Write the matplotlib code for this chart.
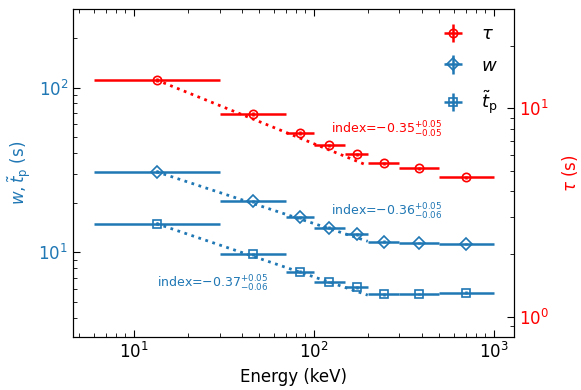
import numpy as np
import matplotlib.pyplot as plt

# bordes de los bines de energia [keV]
e_lo = np.array([6, 30, 70, 100, 150, 200, 300, 500])
e_hi = np.array([30, 70, 100, 150, 200, 300, 500, 1000])
e_mid = np.sqrt(e_lo * e_hi)

tau = np.array([13.7, 9.43, 7.6, 6.65, 6.03, 5.45, 5.16, 4.67])
tau_err = np.array([0.3, 0.2, 0.15, 0.12, 0.1, 0.1, 0.08, 0.08])
w = np.array([30.8, 20.4, 16.3, 14.1, 12.8, 11.6, 11.4, 11.2])
w_err = np.array([0.6, 0.4, 0.3, 0.3, 0.25, 0.2, 0.2, 0.2])
tp = np.array([14.9, 9.68, 7.62, 6.6, 6.13, 5.54, 5.56, 5.67])
tp_err = np.array([0.3, 0.2, 0.15, 0.12, 0.12, 0.1, 0.1, 0.1])

# ajustes ley de potencias
idx_tau, idx_w, idx_tp = -0.35, -0.36, -0.37
e_fit = np.array([13.4, 200])

azul = '#1f77b4'
rojo = 'red'

plt.rcParams['xtick.direction'] = 'in'
plt.rcParams['ytick.direction'] = 'in'

fig = plt.figure(figsize=(5.81, 3.9), dpi=100)
ax = fig.add_axes([0.1256, 0.1359, 0.7591, 0.8410])
ax2 = ax.twinx()

xerr = [e_mid - e_lo, e_hi - e_mid]

ax.errorbar(e_mid, w, xerr=xerr, yerr=w_err, fmt='D', mfc='none', mec=azul,
            color=azul, ms=6, elinewidth=1.8, mew=1.2, label=r'$w$')
ax.errorbar(e_mid, tp, xerr=xerr, yerr=tp_err, fmt='s', mfc='none', mec=azul,
            color=azul, ms=6, elinewidth=1.8, mew=1.2, label=r'$\tilde{t}_\mathrm{p}$')
ax.plot(e_fit, w[0] * (e_fit / e_fit[0]) ** idx_w, ':', color=azul, lw=2)
ax.plot(e_fit, tp[0] * (e_fit / e_fit[0]) ** idx_tp, ':', color=azul, lw=2)

ax2.errorbar(e_mid, tau, xerr=xerr, yerr=tau_err, fmt='o', mfc='none', mec=rojo,
             color=rojo, ms=6, elinewidth=1.8, mew=1.2, label=r'$\tau$')
ax2.plot(e_fit, tau[0] * (e_fit / e_fit[0]) ** idx_tau, ':', color=rojo, lw=2)

ax.set_xscale('log')
ax.set_yscale('log')
ax2.set_yscale('log')
ax.set_xlim(4.6, 1300)
ax.set_ylim(3.05, 300)
ax2.set_ylim(0.8, 30)

ax.tick_params(axis='x', which='both', top=True, labelsize=12)
ax.tick_params(axis='y', which='both', labelsize=12, labelcolor=azul)
ax2.tick_params(axis='y', which='both', labelsize=12, labelcolor=rojo)
ax.tick_params(which='major', length=5)
ax.tick_params(which='minor', length=3)
ax2.tick_params(which='major', length=5)
ax2.tick_params(which='minor', length=3)

ax.set_xlabel('Energy (keV)', fontsize=12)
ax.set_ylabel(r'$w, \tilde{t}_\mathrm{p}$ (s)', fontsize=12, color=azul)
ax2.set_ylabel(r'$\tau$ (s)', fontsize=12, color=rojo, labelpad=8)

ax2.text(0.585, 0.62, r'index=$-0.35^{+0.05}_{-0.05}$', transform=ax.transAxes,
         color=rojo, fontsize=9)
ax.text(0.585, 0.37, r'index=$-0.36^{+0.05}_{-0.06}$', transform=ax.transAxes,
        color=azul, fontsize=9)
ax.text(0.19, 0.15, r'index=$-0.37^{+0.05}_{-0.06}$', transform=ax.transAxes,
        color=azul, fontsize=9)

h1, l1 = ax2.get_legend_handles_labels()
h2, l2 = ax.get_legend_handles_labels()
ax2.legend(h1 + h2, l1 + l2, loc='upper right', frameon=False, fontsize=13,
           labelspacing=0.75, handlelength=1.5, borderaxespad=0.5)

fig.savefig('out.png', dpi=100)
